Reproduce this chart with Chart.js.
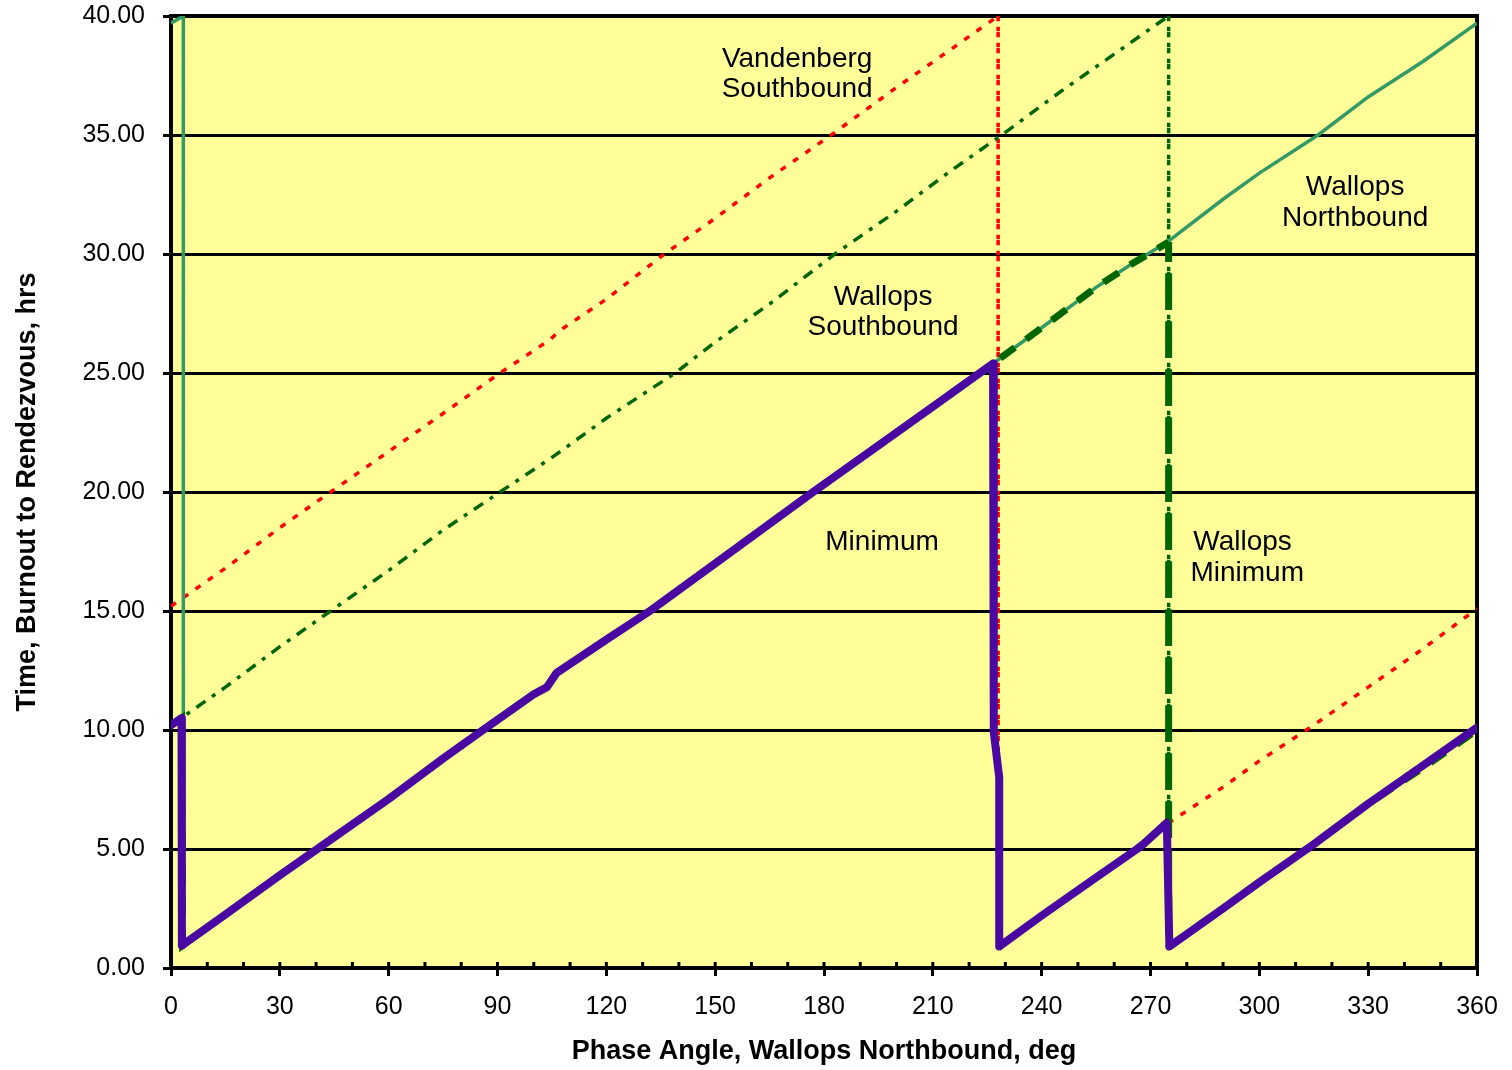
<!DOCTYPE html>
<html>
<head>
<meta charset="utf-8">
<script src="https://cdn.jsdelivr.net/npm/chart.js@4.4.1/dist/chart.umd.min.js"></script>
<style>
  html, body { margin: 0; padding: 0; background: #fff; }
  #chart { display: block; }
</style>
</head>
<body>
<canvas id="chart" width="1512" height="1070"></canvas>
<script>
// 數值 (phase deg / hours)
const minX = [0, 2.9, 3.0, 15, 30, 45, 60, 75, 86, 100, 103.6, 106.3, 120, 132, 150, 177, 195, 212, 226.6,
  226.8, 228.3, 228.3, 240, 255, 266.3, 268, 274.5, 275.2, 290, 300, 315, 330, 345, 360];
const minY = [10.2, 10.5, 0.95, 2.25, 3.9, 5.5, 7.1, 8.8, 10.0, 11.5, 11.8, 12.4, 13.8, 15.0, 17.0, 20.0, 21.95, 23.8, 25.4,
  9.9, 8.0, 0.9, 2.2, 3.8, 5.0, 5.2, 6.1, 0.9, 2.5, 3.6, 5.2, 6.9, 8.5, 10.1];

const wallopsMinX = [0, 2.9, 3.2, 15, 30, 45, 60, 75, 86, 100, 103.6, 106.3, 120, 132, 150, 177, 195, 212, 226.6,
  240, 255, 265, 275, 275, 290, 300, 315, 330, 345, 360];
const wallopsMinY = [10.2, 10.5, 0.95, 2.25, 3.9, 5.5, 7.1, 8.8, 10.0, 11.5, 11.8, 12.4, 13.8, 15.0, 17.0, 20.0, 21.95, 23.8, 25.4,
  26.9, 28.6, 29.6, 30.5, 0.9, 2.5, 3.6, 5.2, 6.9, 8.4, 10.0];

const wallopsNorthX = [0, 3.4, 3.4, 15, 30, 45, 60, 75, 86, 100, 103.6, 106.3, 120, 132, 150, 177, 195, 212, 226.6,
  240, 255, 265, 274.6, 290, 300, 316.2, 330, 345.2, 360];
const wallopsNorthY = [39.7, 40.0, 0.95, 2.25, 3.9, 5.5, 7.1, 8.8, 10.0, 11.5, 11.8, 12.4, 13.8, 15.0, 17.0, 20.0, 21.95, 23.8, 25.4,
  26.9, 28.6, 29.6, 30.5, 32.3, 33.4, 35.0, 36.6, 38.1, 39.7];

const wallopsSouthX = [0, 15, 30, 44, 60, 75, 90.7, 104.5, 107.3, 120, 139, 150, 165, 183, 200, 215, 229, 245, 260, 275,
  275, 290, 300, 315, 330, 345, 360];
const wallopsSouthY = [10.2, 11.8, 13.5, 15.0, 16.7, 18.4, 20.0, 21.4, 21.7, 23.1, 25.0, 26.3, 27.9, 30.0, 31.8, 33.5, 35.0, 36.8, 38.4, 40.0,
  0.9, 2.5, 3.6, 5.2, 6.9, 8.4, 10.0];

const vandenbergSouthX = [0, 15, 30, 44, 60, 75, 90.7, 104.5, 107.3, 120, 136, 150, 165, 182, 200, 215, 228,
  228, 240, 255, 266, 275, 290, 300, 314, 330, 345, 360];
const vandenbergSouthY = [15.2, 16.8, 18.5, 20.0, 21.7, 23.3, 25.0, 26.4, 26.8, 28.1, 30.0, 31.5, 33.2, 35.0, 37.0, 38.6, 40.0,
  0.9, 2.2, 3.8, 5.0, 6.1, 7.6, 8.7, 10.1, 11.8, 13.4, 15.1];

const phaseTicks = { min: 0, max: 360, step: 30, minorStep: 10 };
const timeTicks = { min: 0, max: 40, step: 5 };

const FONT = "'Liberation Sans', Arial, Helvetica, sans-serif";

// 圖內的文字標籤 (資料座標)
const notes = [
  { text: "Vandenberg", x: 172.6, y: 38.2, align: "center" },
  { text: "Southbound", x: 172.6, y: 36.9, align: "center" },
  { text: "Wallops", x: 196.3, y: 28.2, align: "center" },
  { text: "Southbound", x: 196.3, y: 26.9, align: "center" },
  { text: "Minimum", x: 196.0, y: 17.9, align: "center" },
  { text: "Wallops", x: 281.8, y: 17.9, align: "left" },
  { text: "Minimum", x: 281.0, y: 16.6, align: "left" },
  { text: "Wallops", x: 326.4, y: 32.8, align: "center" },
  { text: "Northbound", x: 326.4, y: 31.5, align: "center" },
];

function toPoints(xs, ys) {
  return xs.map((x, i) => ({ x: x, y: ys[i] }));
}

function isVertical(ctx) {
  return ctx.p0.parsed.x === ctx.p1.parsed.x;
}

// 背景、外框與小刻度
const plotFrame = {
  id: "plotFrame",
  beforeDraw(chart) {
    const { ctx, chartArea: a } = chart;
    ctx.save();
    ctx.fillStyle = "#ffff99";
    ctx.fillRect(a.left, a.top, a.right - a.left, a.bottom - a.top);
    ctx.restore();
  },
  beforeDatasetsDraw(chart) {
    const { ctx, chartArea: a } = chart;
    const xs = chart.scales.x;
    ctx.save();
    ctx.strokeStyle = "#000";
    ctx.lineWidth = 3;
    for (let v = phaseTicks.min; v <= phaseTicks.max; v += phaseTicks.minorStep) {
      const px = xs.getPixelForValue(v);
      ctx.beginPath();
      ctx.moveTo(px, a.bottom);
      ctx.lineTo(px, a.bottom - 6);
      ctx.stroke();
    }
    ctx.lineWidth = 4;
    ctx.strokeRect(a.left, a.top, a.right - a.left, a.bottom - a.top);
    ctx.restore();
  },
  afterDatasetsDraw(chart) {
    const { ctx } = chart;
    ctx.save();
    ctx.fillStyle = "#000";
    ctx.font = "28px " + FONT;
    ctx.textBaseline = "middle";
    notes.forEach((n) => {
      ctx.textAlign = n.align;
      ctx.fillText(n.text, chart.scales.x.getPixelForValue(n.x), chart.scales.y.getPixelForValue(n.y));
    });
    ctx.restore();
  },
};

Chart.defaults.font.family = FONT;
Chart.defaults.color = "#000";

const chart = document.querySelector("#chart").getContext("2d");

new Chart(chart, {
  type: "scatter",
  data: {
    datasets: [
      {
        label: "Minimum",
        data: toPoints(minX, minY),
        showLine: true,
        borderColor: "#4a08a2",
        borderWidth: 8,
        borderJoinStyle: "round",
        borderCapStyle: "round",
        pointRadius: 0,
      },
      {
        label: "Wallops Minimum",
        data: toPoints(wallopsMinX, wallopsMinY),
        showLine: true,
        borderColor: "#006600",
        borderWidth: 7,
        pointRadius: 0,
        segment: {
          borderDash: (ctx) => (isVertical(ctx) ? [20, 28] : [18, 14]),
        },
      },
      {
        label: "Wallops Northbound",
        data: toPoints(wallopsNorthX, wallopsNorthY),
        showLine: true,
        borderColor: "#339966",
        borderWidth: 3.5,
        pointRadius: 0,
      },
      {
        label: "Wallops Southbound",
        data: toPoints(wallopsSouthX, wallopsSouthY),
        showLine: true,
        borderColor: "#006600",
        borderWidth: 3.5,
        pointRadius: 0,
        segment: {
          borderDash: (ctx) => (isVertical(ctx) ? [4.5, 11.5] : [11, 8, 4, 8]),
        },
      },
      {
        label: "Vandenberg Southbound",
        data: toPoints(vandenbergSouthX, vandenbergSouthY),
        showLine: true,
        borderColor: "#ff0000",
        borderWidth: 3.5,
        pointRadius: 0,
        segment: {
          borderDash: (ctx) => (isVertical(ctx) ? [4.5, 11.5] : [6, 9]),
        },
      },
    ],
  },
  options: {
    responsive: false,
    animation: false,
    devicePixelRatio: 1,
    layout: { padding: { left: 0, top: 16, right: 35, bottom: 0 } },
    plugins: {
      legend: { display: false },
      tooltip: { enabled: false },
    },
    scales: {
      x: {
        type: "linear",
        min: phaseTicks.min,
        max: phaseTicks.max,
        afterFit: (scale) => {
          scale.height = 102;
          scale.paddingLeft = 0;
          scale.paddingRight = 0;
        },
        ticks: {
          stepSize: phaseTicks.step,
          maxRotation: 0,
          autoSkip: false,
          padding: 16,
          font: { size: 25 },
        },
        grid: {
          drawOnChartArea: false,
          drawTicks: true,
          tickLength: 8,
          color: "#000",
          lineWidth: 3,
        },
        border: { display: true, color: "#000", width: 4 },
        title: {
          display: true,
          text: "Phase Angle, Wallops Northbound, deg",
          font: { size: 27, weight: "bold" },
          padding: { top: 4, bottom: 2 },
        },
      },
      y: {
        type: "linear",
        min: timeTicks.min,
        max: timeTicks.max,
        afterFit: (scale) => {
          scale.width = 171;
          scale.paddingTop = 0;
          scale.paddingBottom = 0;
        },
        ticks: {
          stepSize: timeTicks.step,
          padding: 18,
          font: { size: 25 },
          callback: (v) => Number(v).toFixed(2),
        },
        grid: {
          color: "#000",
          lineWidth: 3,
          tickLength: 8,
        },
        border: { display: true, color: "#000", width: 4 },
        title: {
          display: true,
          text: "Time, Burnout to Rendezvous, hrs",
          font: { size: 27, weight: "bold" },
          padding: { top: 11, bottom: 4 },
        },
      },
    },
  },
  plugins: [plotFrame],
});
</script>
</body>
</html>
